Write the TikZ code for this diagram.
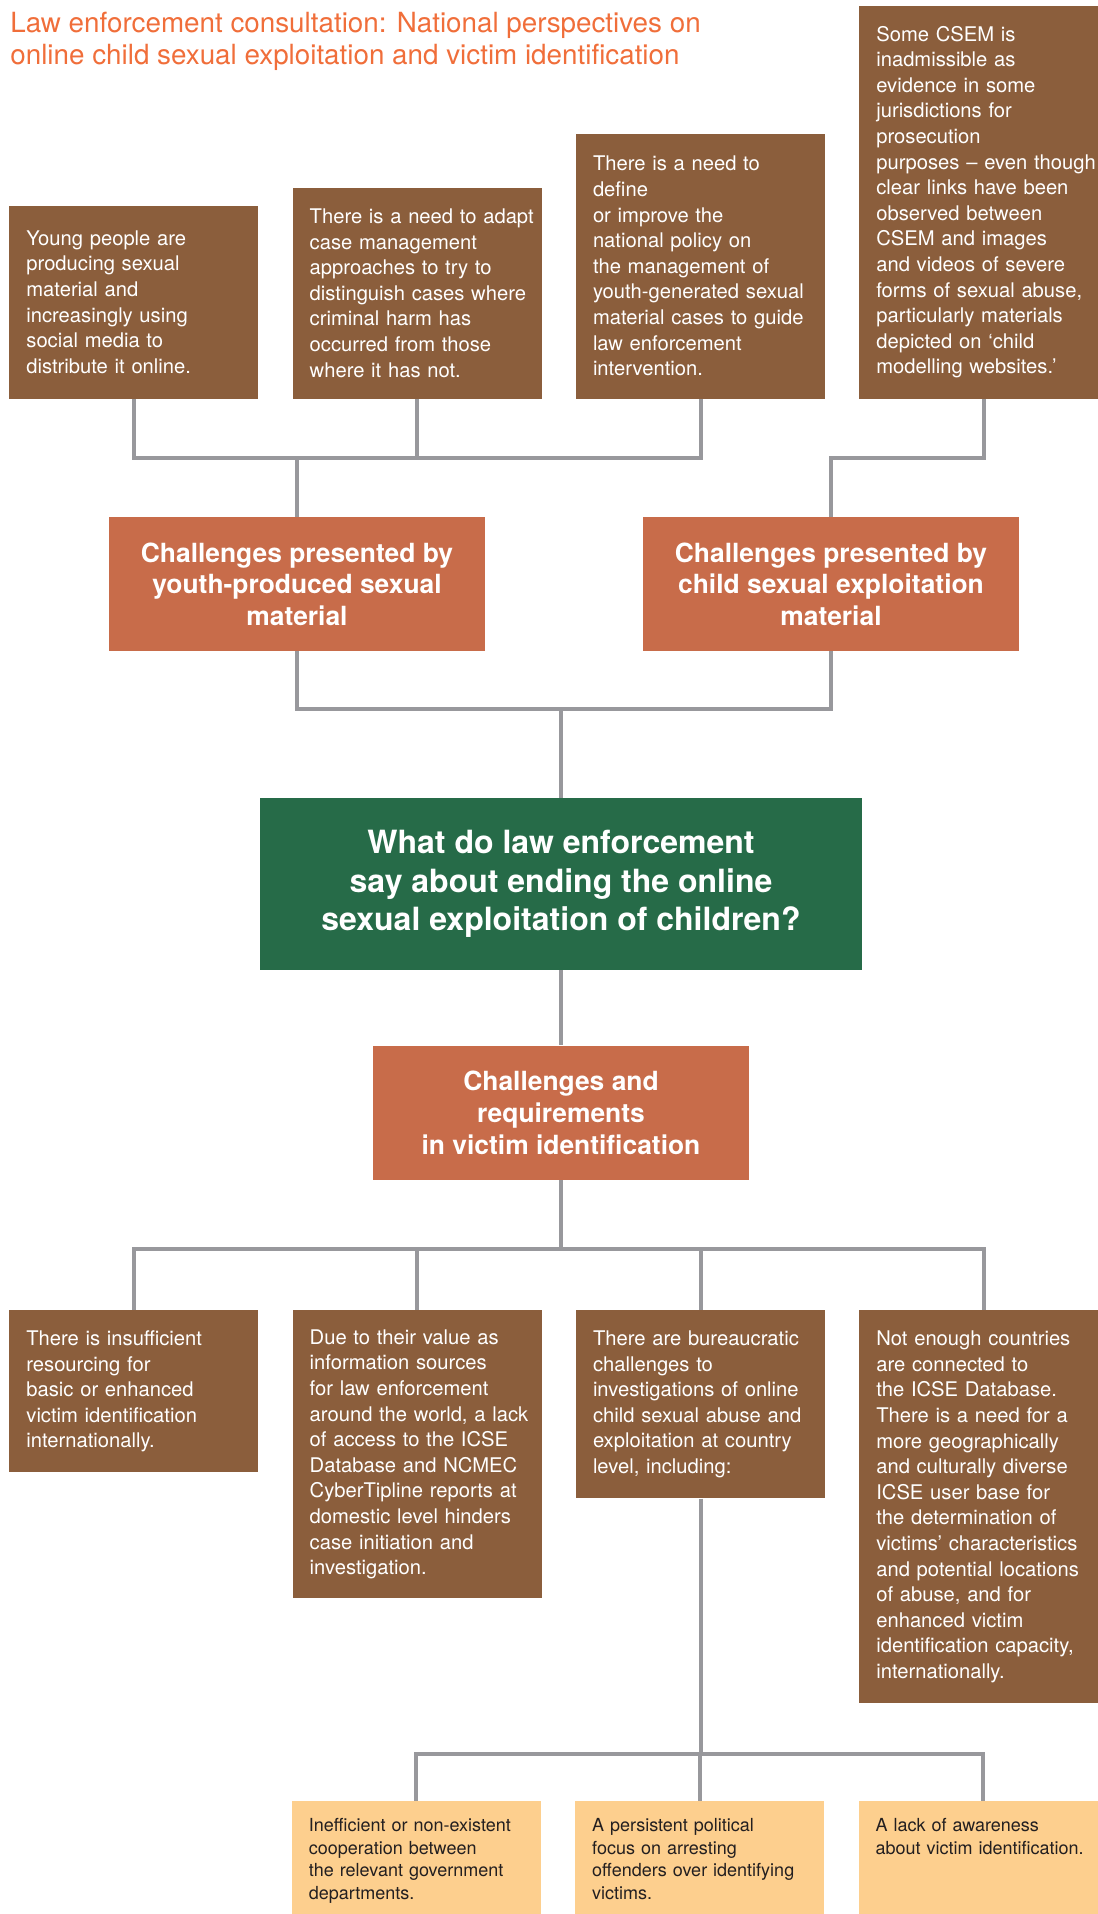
\documentclass[tikz,border=0pt]{standalone}
\usepackage{fontspec}
\setmainfont{TeX Gyre Heros}
\usetikzlibrary{positioning}

\definecolor{boxbrown}{RGB}{139,94,60}
\definecolor{headorange}{RGB}{200,108,74}
\definecolor{askgreen}{RGB}{38,107,72}
\definecolor{paleyellow}{RGB}{253,207,142}
\definecolor{linegray}{RGB}{152,152,156}
\definecolor{titleorange}{RGB}{240,110,58}
\definecolor{subtext}{RGB}{35,31,32}

\begin{document}
\begin{tikzpicture}[x=0.5pt, y=0.5pt,
		note/.style={rectangle, fill=boxbrown, text=white, inner xsep=1pt, inner ysep=0pt, text width=122.5pt, align=left, font=\fontsize{10.1pt}{12.8pt}\selectfont, execute at begin node={\leftskip=7.5pt}},
		head/.style={rectangle, fill=headorange, text=white, inner sep=0pt, minimum width=188pt, minimum height=67pt, align=center, font=\bfseries\fontsize{13.2pt}{15.8pt}\selectfont},
		ask/.style={rectangle, fill=askgreen, text=white, inner sep=0pt, minimum width=301pt, minimum height=86pt, align=center, font=\bfseries\fontsize{16pt}{19.2pt}\selectfont},
		sub/.style={note, fill=paleyellow, text=subtext, inner ysep=8.2pt, text height=7pt, text depth=60pt, font=\fontsize{9pt}{11.25pt}\selectfont},
		link/.style={draw=linegray, line width=2pt}
	]
	\useasboundingbox (0,0) rectangle (1097,-1914);

	\node[anchor=north west, inner sep=0pt, align=left, text=titleorange, font=\fontsize{13.9pt}{16pt}\selectfont] (title) at (10,-12) {Law enforcement consultation: National perspectives on\\online child sexual exploitation and victim identification};

	% top row
	\node[note, minimum height=96.5pt, anchor=south west] (young) at (9,-399) {Young people are\\producing sexual\\material and\\increasingly using\\social media to\\distribute it online.};
	\node[note, minimum height=105.5pt, right=16.75pt of young.south east, anchor=south west] (adapt) {There is a need to adapt\\case management\\approaches to try to\\distinguish cases where\\criminal harm has\\occurred from those\\where it has not.};
	\node[note, minimum height=132.5pt, right=16.75pt of adapt.south east, anchor=south west] (define) {There is a need to\\define\\or improve the\\national policy on\\the management of\\youth-generated sexual\\material cases to guide\\law enforcement\\intervention.};
	\node[note, minimum height=196.5pt, right=16.75pt of define.south east, anchor=south west] (csem) {Some CSEM is\\inadmissible as\\evidence in some\\jurisdictions for\\prosecution\\purposes -- even though\\clear links have been\\observed between\\CSEM and images\\and videos of severe\\forms of sexual abuse,\\particularly materials\\depicted on ‘child\\modelling websites.’};

	\node[head] (ymat) at (297,-584) {Challenges presented by\\youth-produced sexual\\material};
	\node[head] (cmat) at (831,-584) {Challenges presented by\\child sexual exploitation\\material};

	\node[ask] (q) at (561,-884) {What do law enforcement\\say about ending the online\\sexual exploitation of children?};
	\node[head, below=37.5pt of q] (vid) {Challenges and\\requirements\\in victim identification};

	% second row
	\node[note, minimum height=81pt, anchor=north west] (res) at (9,-1310) {There is insufficient\\resourcing for\\basic or enhanced\\victim identification\\internationally.};
	\node[note, minimum height=144pt, right=16.75pt of res.north east, anchor=north west] (access) {Due to their value as\\information sources\\for law enforcement\\around the world, a lack\\of access to the ICSE\\Database and NCMEC\\CyberTipline reports at\\domestic level hinders\\case initiation and\\investigation.};
	\node[note, minimum height=94pt, right=16.75pt of access.north east, anchor=north west] (bureau) {There are bureaucratic\\challenges to\\investigations of online\\child sexual abuse and\\exploitation at country\\level, including:};
	\node[note, minimum height=196.5pt, right=16.75pt of bureau.north east, anchor=north west] (icse) {Not enough countries\\are connected to\\the ICSE Database.\\There is a need for a\\more geographically\\and culturally diverse\\ICSE user base for\\the determination of\\victims’ characteristics\\and potential locations\\of abuse, and for\\enhanced victim\\identification capacity,\\internationally.};

	% third row
	\node[sub, anchor=north west] (coop) at (291.5,-1801) {Inefficient or non-existent\\cooperation between\\the relevant government\\departments.};
	\node[sub, right=16.75pt of coop.north east, anchor=north west] (focus) {A persistent political\\focus on arresting\\offenders over identifying\\victims.};
	\node[sub, right=16.75pt of focus.north east, anchor=north west] (aware) {A lack of awareness\\about victim identification.};

	\coordinate[above=29.5pt of ymat.north] (topjoin);
	\coordinate[above=44.5pt of q.north] (midjoin);
	\coordinate[below=34.5pt of vid.south] (lowjoin);
	\coordinate[above=23.5pt of focus.north] (subjoin);

	\foreach \i/\j in {young/ymat, adapt/ymat, define/ymat, csem/cmat}
		\draw[link] (\i.south) |- (topjoin -| \j.north) -- (\j.north);

	\foreach \i in {ymat, cmat}
		\draw[link] (\i.south) |- (midjoin) -- (q.north);

	\draw[link] (q.south) -- (vid.north);

	\foreach \i in {res, access, bureau, icse}
		\draw[link] (vid.south) |- (lowjoin -| \i.north) -- (\i.north);

	\foreach \i in {coop, focus, aware}
		\draw[link] (bureau.south) |- (subjoin -| \i.north) -- (\i.north);

\end{tikzpicture}
\end{document}
